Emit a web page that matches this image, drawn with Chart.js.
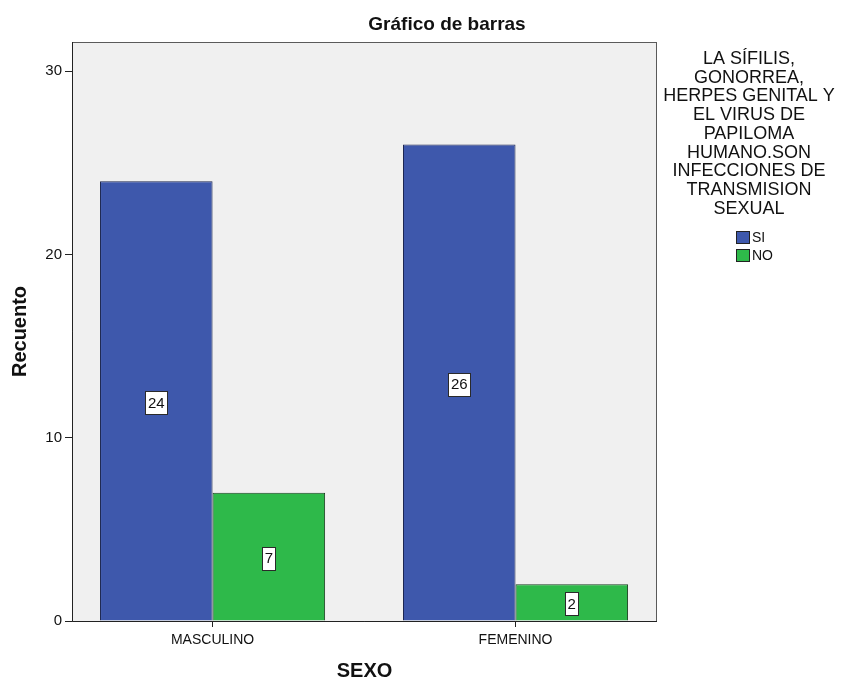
<!DOCTYPE html>
<html>
<head>
<meta charset="utf-8">
<script src="https://cdn.jsdelivr.net/npm/chart.js@4/dist/chart.umd.min.js"></script>
<style>
  html, body { margin: 0; padding: 0; background: #ffffff; }
  #wrap { width: 847px; height: 681px; }
</style>
</head>
<body>
<div id="wrap"><canvas id="c" width="847" height="681"></canvas></div>
<script>
const chartTitle = 'Gráfico de barras';
const categories = ['MASCULINO', 'FEMENINO'];
const seriesNames = ['SI', 'NO'];
const siValues = [24, 26];
const noValues = [7, 2];
const yTicks = [0, 10, 20, 30];
const xAxisTitle = 'SEXO';
const yAxisTitle = 'Recuento';
const legendTitleLines = [
  'LA SÍFILIS,',
  'GONORREA,',
  'HERPES GENITAL Y',
  'EL VIRUS DE',
  'PAPILOMA',
  'HUMANO.SON',
  'INFECCIONES DE',
  'TRANSMISION',
  'SEXUAL'
];

const FONT = '"Liberation Sans", Arial, sans-serif';

const bgPlugin = {
  id: 'bgPlugin',
  beforeDatasetsDraw(chart) {
    const a = chart.chartArea, ctx = chart.ctx;
    ctx.save();
    ctx.fillStyle = '#f0f0f0';
    ctx.fillRect(a.left, a.top, a.right - a.left, a.bottom - a.top);
    ctx.restore();
  },
  afterDatasetsDraw(chart) {
    const a = chart.chartArea, ctx = chart.ctx;
    ctx.save();
    ctx.lineWidth = 1;
    ctx.strokeStyle = '#5a5a5a';
    ctx.strokeRect(Math.round(a.left) + 0.5, Math.round(a.top) + 0.5, Math.round(a.right - a.left) - 1, Math.round(a.bottom - a.top));
    ctx.strokeStyle = '#222';
    ctx.beginPath();
    ctx.moveTo(Math.round(a.left) + 0.5, Math.round(a.top));
    ctx.lineTo(Math.round(a.left) + 0.5, Math.round(a.bottom) + 0.5);
    ctx.lineTo(Math.round(a.right), Math.round(a.bottom) + 0.5);
    ctx.stroke();
    ctx.restore();
  }
};

const labelPlugin = {
  id: 'labelPlugin',
  afterDatasetsDraw(chart) {
    const ctx = chart.ctx;
    ctx.save();
    ctx.font = '15px ' + FONT;
    ctx.textAlign = 'center';
    ctx.textBaseline = 'middle';
    chart.data.datasets.forEach((ds, di) => {
      const meta = chart.getDatasetMeta(di);
      meta.data.forEach((el, i) => {
        const v = ds.data[i].y;
        const txt = String(v);
        const cx = el.x;
        const cy = (el.y + el.base) / 2 + 1.5;
        const w = Math.round(ctx.measureText(txt).width + 5);
        const h = 23;
        const x0 = Math.round(cx - w / 2) + 0.5, y0 = Math.round(cy - h / 2) + 0.5;
        ctx.fillStyle = '#ffffff';
        ctx.fillRect(x0, y0, w, h);
        ctx.strokeStyle = '#2a2a2a';
        ctx.lineWidth = 1;
        ctx.strokeRect(x0, y0, w, h);
        ctx.fillStyle = '#111';
        ctx.fillText(txt, cx, cy + 1);
      });
    });
    ctx.restore();
  }
};

const titleLegendPlugin = {
  id: 'titleLegendPlugin',
  afterDraw(chart) {
    const ctx = chart.ctx;
    ctx.save();
    ctx.fillStyle = '#111';
    ctx.textAlign = 'center';
    ctx.textBaseline = 'middle';
    ctx.font = 'bold 19px ' + FONT;
    ctx.fillText(chartTitle, 447, 25);

    ctx.font = '18px ' + FONT;
    const cx = 749;
    legendTitleLines.forEach((line, i) => {
      ctx.fillText(line, cx, 59 + i * 18.75);
    });

    ctx.textAlign = 'left';
    ctx.font = '14px ' + FONT;
    chart.data.datasets.forEach((ds, i) => {
      const by = 231 + i * 18;
      ctx.fillStyle = ds.backgroundColor;
      ctx.fillRect(736, by, 14, 13);
      ctx.strokeStyle = '#222';
      ctx.lineWidth = 1;
      ctx.strokeRect(736.5, by + 0.5, 13, 12);
      ctx.fillStyle = '#111';
      ctx.fillText(ds.label, 752, by + 7);
    });
    ctx.restore();
  }
};

const toPoints = arr => arr.map((v, i) => ({ x: i, y: v }));

new Chart(document.getElementById('c'), {
  type: 'bar',
  data: {
    datasets: [
      { label: seriesNames[0], data: toPoints(siValues), backgroundColor: '#3e58ac', borderColor: '#1c2650', borderWidth: 1 },
      { label: seriesNames[1], data: toPoints(noValues), backgroundColor: '#2eb94a', borderColor: '#1a3f20', borderWidth: 1 }
    ]
  },
  options: {
    responsive: false,
    animation: false,
    devicePixelRatio: 1,
    layout: { padding: { left: 0, top: 42, right: 190, bottom: 0 } },
    datasets: { bar: { categoryPercentage: 0.743, barPercentage: 1 } },
    plugins: {
      legend: { display: false },
      title: { display: false },
      tooltip: { enabled: false }
    },
    scales: {
      x: {
        type: 'linear',
        min: -0.464,
        max: 1.467,
        offset: false,
        afterFit(scale) { scale.height = 60; },
        grid: { display: true, offset: false, drawOnChartArea: false, drawTicks: true, tickLength: 6, color: '#222' },
        border: { display: false },
        ticks: {
          stepSize: 1,
          includeBounds: false,
          autoSkip: false,
          maxRotation: 0,
          padding: 5,
          color: '#111',
          font: { family: FONT, size: 14 },
          callback: v => (categories[v] !== undefined && Number.isInteger(v)) ? categories[v] : ''
        },
        title: {
          display: true,
          text: xAxisTitle,
          color: '#111',
          font: { family: FONT, size: 20, weight: 'bold', lineHeight: 1 },
          padding: { top: 0, bottom: 0 }
        }
      },
      y: {
        min: 0,
        max: 31.6,
        afterFit(scale) { scale.width = 72; },
        afterBuildTicks(scale) { scale.ticks = yTicks.map(v => ({ value: v })); },
        grid: { display: true, drawOnChartArea: false, drawTicks: true, tickLength: 7, color: '#222' },
        border: { display: false },
        ticks: {
          padding: 3,
          color: '#111',
          font: { family: FONT, size: 15 }
        },
        title: {
          display: true,
          text: yAxisTitle,
          color: '#111',
          font: { family: FONT, size: 20, weight: 'bold', lineHeight: 1.2 },
          padding: { top: 8, bottom: 0 }
        }
      }
    }
  },
  plugins: [bgPlugin, labelPlugin, titleLegendPlugin]
});
</script>
</body>
</html>
